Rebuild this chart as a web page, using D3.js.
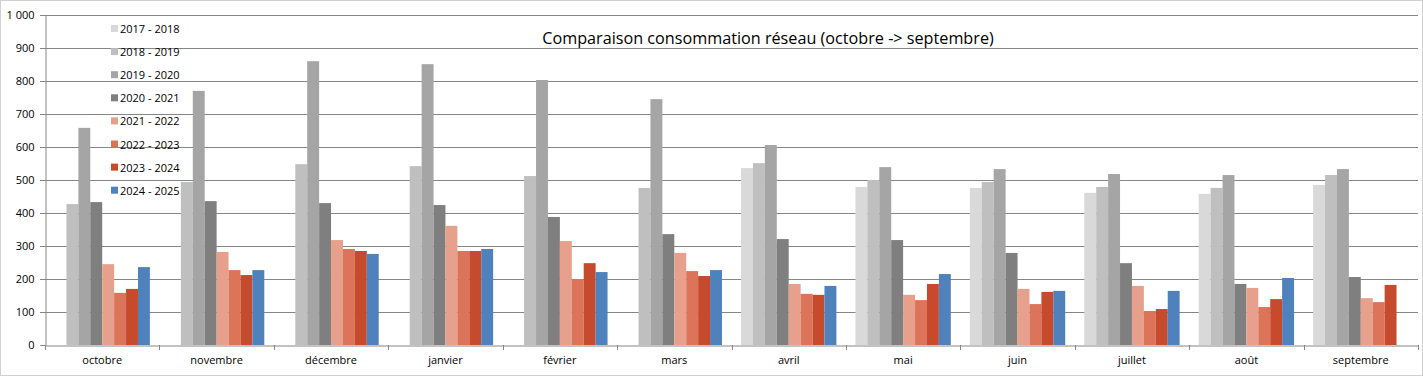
<!DOCTYPE html>
<meta charset="utf-8"/>
<style>
  html, body { margin: 0; padding: 0; background: #fff; }
  text { font-family: "Open Sans", "Noto Sans", sans-serif; fill: #000; }
  .grid line { stroke: #868686; stroke-width: 1px; }
</style>
<body>
<svg width="1423" height="376"></svg>
</body>
<script src="https://d3js.org/d3.v7.min.js"></script>
<script>

  // mois (octobre -> septembre)
  var months = ["octobre", "novembre", "décembre", "janvier", "février", "mars",
    "avril", "mai", "juin", "juillet", "août", "septembre"]

  var seasons = ["2017 - 2018", "2018 - 2019", "2019 - 2020", "2020 - 2021",
    "2021 - 2022", "2022 - 2023", "2023 - 2024", "2024 - 2025"]

  var colors = ["#d9d9d9", "#bfbfbf", "#a5a5a5", "#7f7f7f",
    "#e6a08c", "#dc7459", "#c54b2c", "#4f81bd"]

  var yTicks = [0, 100, 200, 300, 400, 500, 600, 700, 800, 900, 1000]

  // null = pas de valeur
  var s2017 = [null, null, null, null, null, null, 536, 479, 476, 461, 458, 485]
  var s2018 = [427, 494, 548, 542, 512, 476, 551, 500, 494, 479, 476, 515]
  var s2019 = [658, 770, 860, 851, 803, 745, 606, 539, 533, 518, 515, 533]
  var s2020 = [433, 436, 430, 424, 388, 336, 321, 318, 279, 248, 185, 206]
  var s2021 = [245, 282, 318, 361, 315, 279, 185, 152, 170, 179, 173, 142]
  var s2022 = [158, 227, 291, 285, 200, 224, 155, 136, 124, 103, 115, 130]
  var s2023 = [170, 212, 285, 285, 248, 209, 152, 185, 161, 109, 139, 182]
  var s2024 = [236, 227, 276, 291, 221, 227, 179, 215, 164, 164, 203, null]

  var series = [s2017, s2018, s2019, s2020, s2021, s2022, s2023, s2024]

  var svg = d3.select("svg"),
    width = +svg.attr("width"),
    height = +svg.attr("height")

  var margin = {left: 45, right: 5, top: 15, bottom: 31}

  // cadre
  svg.append("rect")
    .attr("x", 0.5).attr("y", 0.5)
    .attr("width", width - 1).attr("height", height - 1)
    .attr("fill", "none").attr("stroke", "#d0d0d0")

  var x = d3.scaleBand()
    .domain(months)
    .range([margin.left, width - margin.right])
    .paddingInner(0).paddingOuter(0)

  var xs = d3.scaleBand()
    .domain(seasons)
    .range([0, x.bandwidth()])
    .paddingOuter(0.8).paddingInner(0)

  var y = d3.scaleLinear()
    .domain([0, 1000])
    .range([height - margin.bottom, margin.top])

  // grille
  svg.append("g")
    .attr("class", "grid")
    .selectAll("line")
    .data(yTicks.filter(function (d) { return d > 0 }))
    .enter().append("line")
    .attr("x1", margin.left - 5)
    .attr("x2", width - margin.right)
    .attr("y1", function (d) { return Math.round(y(d)) + 0.5 })
    .attr("y2", function (d) { return Math.round(y(d)) + 0.5 })

  // barres
  var groups = svg.append("g")
    .selectAll("g")
    .data(series)
    .enter().append("g")
    .attr("fill", function (d, i) { return colors[i] })

  groups.selectAll("rect")
    .data(function (d, i) {
      return d.map(function (v, j) { return {v: v, m: months[j], s: seasons[i]} })
        .filter(function (o) { return o.v !== null })
    })
    .enter().append("rect")
    .attr("x", function (d) { return x(d.m) + xs(d.s) })
    .attr("width", xs.bandwidth())
    .attr("y", function (d) { return y(d.v) })
    .attr("height", function (d) { return y(0) - y(d.v) })

  // axe y
  var yAxis = svg.append("g")
    .attr("transform", "translate(" + (margin.left + 0.5) + ",0)")
    .call(d3.axisLeft(y).tickValues(yTicks).tickSize(5).tickPadding(6)
      .tickFormat(function (d) { return d === 1000 ? "1 000" : d }))
  yAxis.select(".domain").attr("stroke", "#868686")
  yAxis.selectAll(".tick line").attr("stroke", "#868686")
  yAxis.selectAll("text").style("font-size", "11px")

  // axe x
  var xAxis = svg.append("g")
    .attr("transform", "translate(0," + (Math.round(y(0)) + 0.5) + ")")
    .call(d3.axisBottom(x).tickSize(0).tickPadding(11))
  xAxis.select(".domain").attr("stroke", "#868686")
  xAxis.selectAll("text").style("font-size", "11px")

  svg.append("g")
    .selectAll("line")
    .data(months.concat(["end"]))
    .enter().append("line")
    .attr("x1", function (d, i) { return Math.round(margin.left + i * x.bandwidth()) + 0.5 })
    .attr("x2", function (d, i) { return Math.round(margin.left + i * x.bandwidth()) + 0.5 })
    .attr("y1", y(0))
    .attr("y2", y(0) + 5)
    .attr("stroke", "#868686")

  // titre
  svg.append("text")
    .attr("x", 768)
    .attr("y", 44)
    .attr("text-anchor", "middle")
    .style("font-size", "16.2px")
    .text("Comparaison consommation réseau (octobre -> septembre)")

  // légende
  var legend = svg.append("g")
    .selectAll("g")
    .data(seasons)
    .enter().append("g")
    .attr("transform", function (d, i) { return "translate(111," + (29 + i * 23.1) + ")" })

  legend.append("rect")
    .attr("x", 0).attr("y", -4)
    .attr("width", 7).attr("height", 7)
    .attr("fill", function (d, i) { return colors[i] })

  legend.append("text")
    .attr("x", 9)
    .attr("y", 4)
    .style("font-size", "11px")
    .text(function (d) { return d })

</script>
